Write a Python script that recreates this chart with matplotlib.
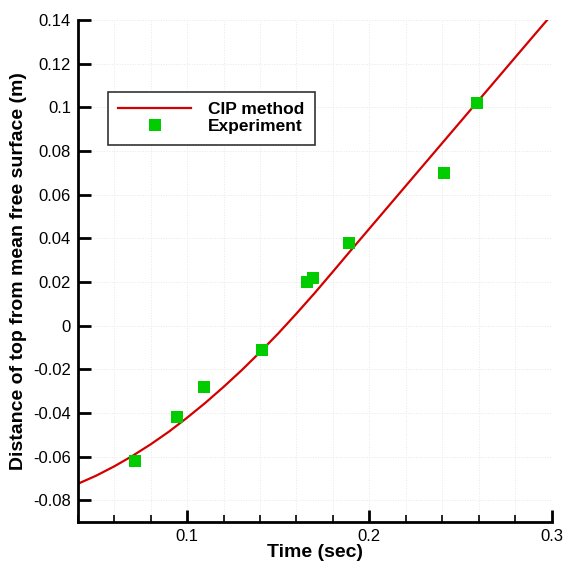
import matplotlib
matplotlib.use('Agg')
import matplotlib.pyplot as plt
from matplotlib.ticker import FuncFormatter, MultipleLocator

plt.rcParams['font.family'] = ['Liberation Sans', 'DejaVu Sans']
plt.rcParams['axes.unicode_minus'] = False

# CIP method curve
cip_time = [0.04, 0.05, 0.06, 0.07, 0.08, 0.09, 0.10, 0.11, 0.12, 0.13,
            0.14, 0.15, 0.16, 0.17, 0.18, 0.19, 0.20, 0.21, 0.22, 0.23,
            0.24, 0.25, 0.26, 0.27, 0.28, 0.29, 0.2977]
cip_dist = [-0.0725, -0.0688, -0.0645, -0.0597, -0.0544, -0.0486, -0.0422, -0.0354, -0.0281, -0.0204,
            -0.0122, -0.0036, 0.0055, 0.0149, 0.0247, 0.0346, 0.0444, 0.0542, 0.0640, 0.0738,
            0.0836, 0.0934, 0.1032, 0.1130, 0.1228, 0.1326, 0.1401]

# Experiment points
exp_time = [0.0714, 0.0945, 0.109, 0.141, 0.166, 0.169, 0.189, 0.241, 0.259]
exp_dist = [-0.062, -0.042, -0.028, -0.011, 0.020, 0.022, 0.038, 0.070, 0.102]

fig = plt.figure(figsize=(5.64, 5.61), dpi=100)
ax = fig.add_axes([0.138, 0.0695, 0.840, 0.895])

ax.plot(cip_time, cip_dist, color='#d40000', lw=1.6, label='CIP method')
ax.plot(exp_time, exp_dist, 's', color='#00cc00', ms=8, mew=0, label='Experiment')

ax.set_xlim(0.04, 0.3)
ax.set_ylim(-0.09, 0.14)
ax.xaxis.set_major_locator(MultipleLocator(0.1))
ax.xaxis.set_minor_locator(MultipleLocator(0.02))
ax.yaxis.set_major_locator(MultipleLocator(0.02))
fmt = FuncFormatter(lambda v, p: '{:g}'.format(round(v, 4)))
ax.xaxis.set_major_formatter(fmt)
ax.yaxis.set_major_formatter(fmt)

ax.spines['top'].set_visible(False)
ax.spines['right'].set_visible(False)
ax.spines['left'].set_linewidth(2)
ax.spines['bottom'].set_linewidth(2)
ax.tick_params(which='major', direction='in', length=9, width=2, labelsize=12, pad=5)
ax.tick_params(which='minor', direction='in', length=5, width=1.2)
ax.tick_params(axis='y', which='minor', left=False)

ax.grid(which='both', axis='x', color='#e8e8e8', ls=':', lw=0.7)
ax.grid(which='major', axis='y', color='#e8e8e8', ls=':', lw=0.7)

ax.set_xlabel('Time (sec)', fontsize=14, fontweight='bold', labelpad=0)
ax.set_ylabel('Distance of top from mean free surface (m)', fontsize=14,
              fontweight='bold', labelpad=4)

leg = ax.legend(loc='upper left', bbox_to_anchor=(0.063, 0.857), borderaxespad=0,
                fancybox=False, framealpha=1, edgecolor='#333333',
                prop={'weight': 'bold', 'size': 12.5}, handlelength=4.2,
                handletextpad=1.0, labelspacing=0.1, borderpad=0.6)
leg.get_frame().set_linewidth(1.2)

fig.savefig('out.png', dpi=100)
